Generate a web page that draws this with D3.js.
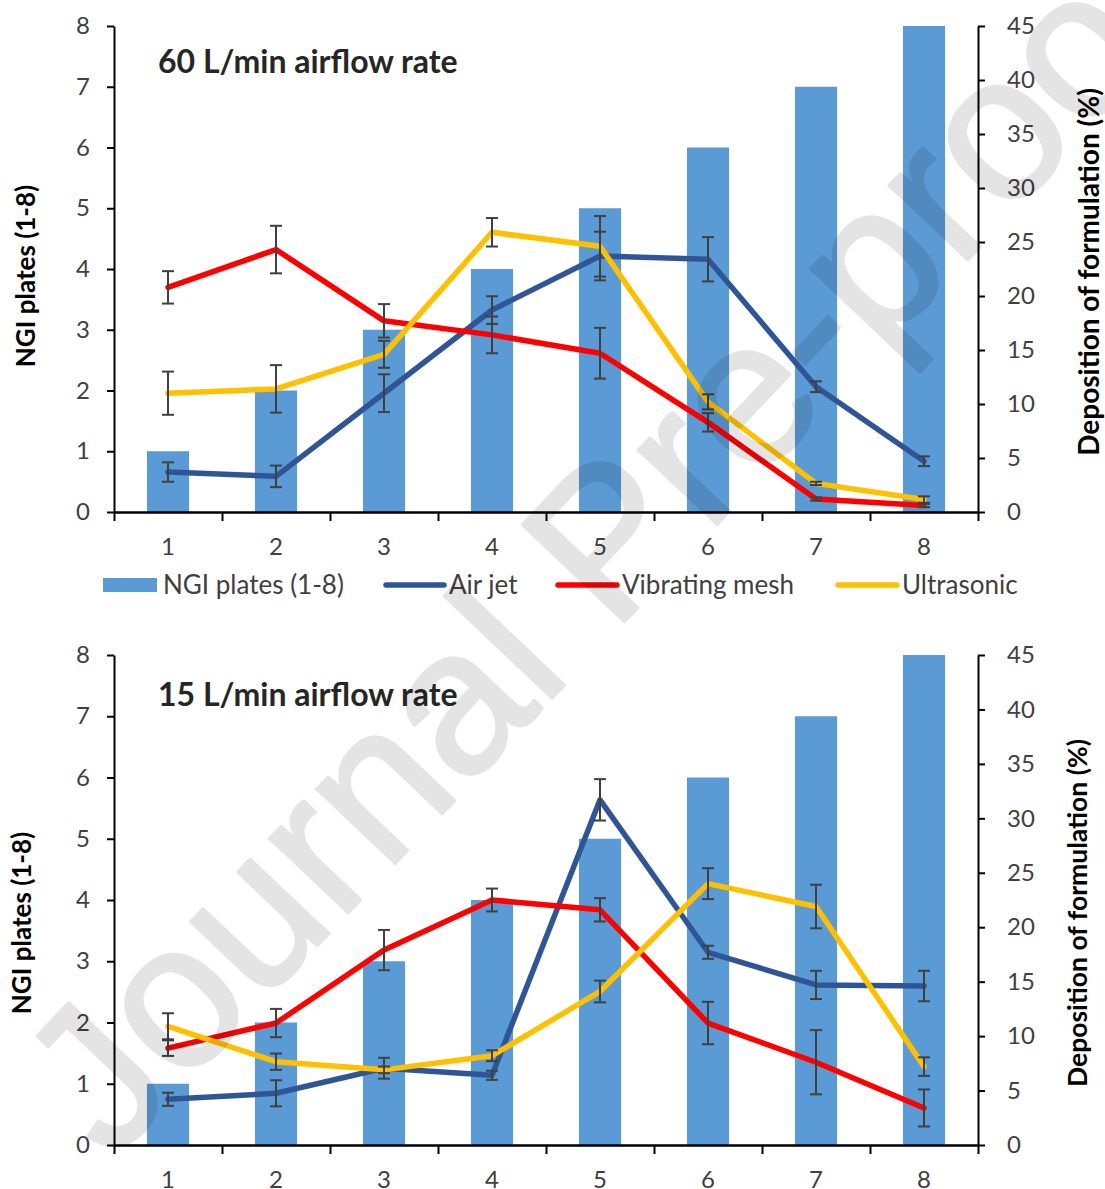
<!DOCTYPE html>
<html>
<head>
<meta charset="utf-8">
<script src="https://cdn.jsdelivr.net/npm/d3@7"></script>
<style>
  html, body { margin: 0; padding: 0; background: #fff; }
  svg { display: block; }
</style>
</head>
<body>
<svg id="chart" width="1105" height="1189"></svg>
<script>
// ---------------- DATA ----------------
const plates = [1, 2, 3, 4, 5, 6, 7, 8];
const plateBars = [1, 2, 3, 4, 5, 6, 7, 8];
const leftTicks = [0, 1, 2, 3, 4, 5, 6, 7, 8];
const rightTicks = [0, 5, 10, 15, 20, 25, 30, 35, 40, 45];
const seriesNames = ["NGI plates (1-8)", "Air jet", "Vibrating mesh", "Ultrasonic"];

// 60 L/min
const airJet60 = [3.7, 3.3, 11.0, 18.7, 23.7, 23.4, 11.6, 4.7];
const airJet60Err = [0.9, 1.0, 1.75, 1.28, 2.25, 2.05, 0.5, 0.45];
const mesh60 = [20.8, 24.3, 17.7, 16.4, 14.7, 8.3, 1.2, 0.6];
const mesh60Err = [1.5, 2.2, 1.55, 1.7, 2.35, 0.85, 0.15, 0.15];
const ultra60 = [11.0, 11.4, 14.6, 25.9, 24.6, 10.2, 2.65, 1.15];
const ultra60Err = [2.0, 2.2, 1.25, 1.32, 2.8, 0.7, 0.15, 0.3];

// 15 L/min
const airJet15 = [4.2, 4.75, 7.05, 6.4, 31.7, 17.7, 14.7, 14.6];
const airJet15Err = [0.6, 1.2, 0.96, 0.42, 1.9, 0.6, 1.3, 1.4];
const mesh15 = [8.9, 11.2, 17.9, 22.5, 21.6, 11.2, 7.6, 3.4];
const mesh15Err = [0.72, 1.3, 1.85, 1.05, 1.07, 1.95, 2.95, 1.7];
const ultra15 = [10.9, 7.65, 6.9, 8.2, 14.1, 24.0, 21.9, 7.2];
const ultra15Err = [1.2, 0.75, 0.3, 0.5, 1.0, 1.42, 2.0, 0.85];

const titles = ["60 L/min airflow rate", "15 L/min airflow rate"];
const leftTitle = "NGI plates (1-8)";
const rightTitle = "Deposition of formulation (%)";
const watermark = "Journal Pre-proof";

// ---------------- STYLE ----------------
const colBar = "#5B9BD5";
const colAir = "#2F5597";
const colMesh = "#FF0000";
const colUltra = "#FFC000";
const colErr = "#404040";
const font = "Lato, 'Open Sans', sans-serif";

const svg = d3.select("#chart");

const panels = [
  { y0: 512, y1: 26, title: titles[0], titleY: 73, leftTitleX: 35, leftMid: 276,
    rightTitleX: 1099, rightMid: 272, rightSize: 28,
    series: [
      { v: airJet60, e: airJet60Err, c: colAir },
      { v: mesh60, e: mesh60Err, c: colMesh },
      { v: ultra60, e: ultra60Err, c: colUltra }
    ] },
  { y0: 1145, y1: 655, title: titles[1], titleY: 706, leftTitleX: 31, leftMid: 923,
    rightTitleX: 1087, rightMid: 913, rightSize: 26.5,
    series: [
      { v: airJet15, e: airJet15Err, c: colAir },
      { v: mesh15, e: mesh15Err, c: colMesh },
      { v: ultra15, e: ultra15Err, c: colUltra }
    ] }
];

const xL = 114, xR = 978;

panels.forEach(p => {
  const g = svg.append("g");
  const x = d3.scaleBand().domain(plates).range([xL, xR]).paddingInner(0.61).paddingOuter(0.305);
  const xc = d => x(d) + x.bandwidth() / 2;
  const xLin = d3.scaleLinear().domain([0, 8]).range([xL, xR]);
  const yL = d3.scaleLinear().domain([0, 8]).range([p.y0, p.y1]);
  const yR = d3.scaleLinear().domain([0, 45]).range([p.y0, p.y1]);

  // bars
  g.selectAll("rect.bar").data(plates).join("rect")
    .attr("class", "bar")
    .attr("x", d => x(d))
    .attr("width", x.bandwidth())
    .attr("y", (d, i) => yL(plateBars[i]))
    .attr("height", (d, i) => yL(0) - yL(plateBars[i]))
    .attr("fill", colBar);

  // lines
  const line = d3.line().x((d, i) => xc(plates[i])).y(d => yR(d));
  p.series.forEach(s => {
    g.append("path").datum(s.v)
      .attr("d", line)
      .attr("fill", "none")
      .attr("stroke", s.c)
      .attr("stroke-width", 5.5)
      .attr("stroke-linejoin", "round")
      .attr("stroke-linecap", "round");
  });
  // error bars
  p.series.forEach(s => {
    const eg = g.append("g").attr("stroke", colErr).attr("stroke-width", 2);
    s.v.forEach((v, i) => {
      const cx = xc(plates[i]);
      const top = yR(v + s.e[i]), bot = yR(Math.max(0, v - s.e[i]));
      eg.append("line").attr("x1", cx).attr("x2", cx).attr("y1", top).attr("y2", bot);
      eg.append("line").attr("x1", cx - 6).attr("x2", cx + 6).attr("y1", top).attr("y2", top);
      eg.append("line").attr("x1", cx - 6).attr("x2", cx + 6).attr("y1", bot).attr("y2", bot);
    });
  });

  // axes
  const axL = g.append("g").attr("transform", `translate(${xL},0)`)
    .call(d3.axisLeft(yL).tickValues(leftTicks).tickSize(7).tickSizeOuter(0).tickPadding(17));
  const axR = g.append("g").attr("transform", `translate(${xR},0)`)
    .call(d3.axisRight(yR).tickValues(rightTicks).tickSize(7).tickSizeOuter(0).tickPadding(22));
  const axB = g.append("g").attr("transform", `translate(0,${p.y0})`)
    .call(d3.axisBottom(x).tickSize(0).tickPadding(26));
  const axBt = g.append("g").attr("transform", `translate(0,${p.y0})`)
    .call(d3.axisBottom(xLin).ticks(8).tickSize(9).tickSizeOuter(0).tickFormat(""));
  [axL, axR, axB, axBt].forEach(a => {
    a.selectAll("path.domain").attr("stroke", "#000").attr("stroke-width", 2);
    a.selectAll(".tick line").attr("stroke", "#000").attr("stroke-width", 2);
    a.selectAll("text").attr("font-family", font).attr("font-size", 24).attr("fill", "#404040");
  });

  // title
  g.append("text").attr("x", 158).attr("y", p.titleY)
    .attr("font-family", font).attr("font-weight", "bold").attr("font-size", 32)
    .attr("fill", "#262626").text(p.title);

  // axis titles
  g.append("text")
    .attr("transform", `translate(${p.leftTitleX},${p.leftMid}) rotate(-90)`)
    .attr("text-anchor", "middle")
    .attr("font-family", font).attr("font-weight", "bold").attr("font-size", 26)
    .attr("fill", "#000").text(leftTitle);
  g.append("text")
    .attr("transform", `translate(${p.rightTitleX},${p.rightMid}) rotate(-90)`)
    .attr("text-anchor", "middle")
    .attr("font-family", font).attr("font-weight", "bold").attr("font-size", p.rightSize)
    .attr("fill", "#000").text(rightTitle);
});

// legend
const legY = 585;
const lg = svg.append("g").attr("font-family", font).attr("font-size", 26).attr("fill", "#404040");
const legItems = [
  { type: "rect", c: colBar, x0: 103, x1: 157, tx: 163 },
  { type: "line", c: colAir, x0: 386, x1: 444, tx: 449 },
  { type: "line", c: colMesh, x0: 558, x1: 617, tx: 622 },
  { type: "line", c: colUltra, x0: 838, x1: 897, tx: 902 }
];
legItems.forEach((it, i) => {
  if (it.type === "rect") {
    lg.append("rect").attr("x", it.x0).attr("y", legY - 7).attr("width", it.x1 - it.x0).attr("height", 14).attr("fill", it.c);
  } else {
    lg.append("line").attr("x1", it.x0).attr("x2", it.x1).attr("y1", legY).attr("y2", legY)
      .attr("stroke", it.c).attr("stroke-width", 5.5).attr("stroke-linecap", "round");
  }
  lg.append("text").attr("x", it.tx).attr("y", legY).attr("dy", "0.35em").text(seriesNames[i]);
});

// watermark
svg.append("g").attr("opacity", 0.1)
  .append("text")
  .attr("transform", "translate(111,1163) rotate(-46.5)")
  .attr("text-anchor", "start")
  .attr("font-family", "'Liberation Sans', Arial, sans-serif")
  .attr("font-size", 205)
  .attr("fill", "#000")
  .attr("stroke", "#000")
  .attr("stroke-width", 3)
  .attr("stroke-linejoin", "round")
  .text(watermark);
</script>
</body>
</html>
